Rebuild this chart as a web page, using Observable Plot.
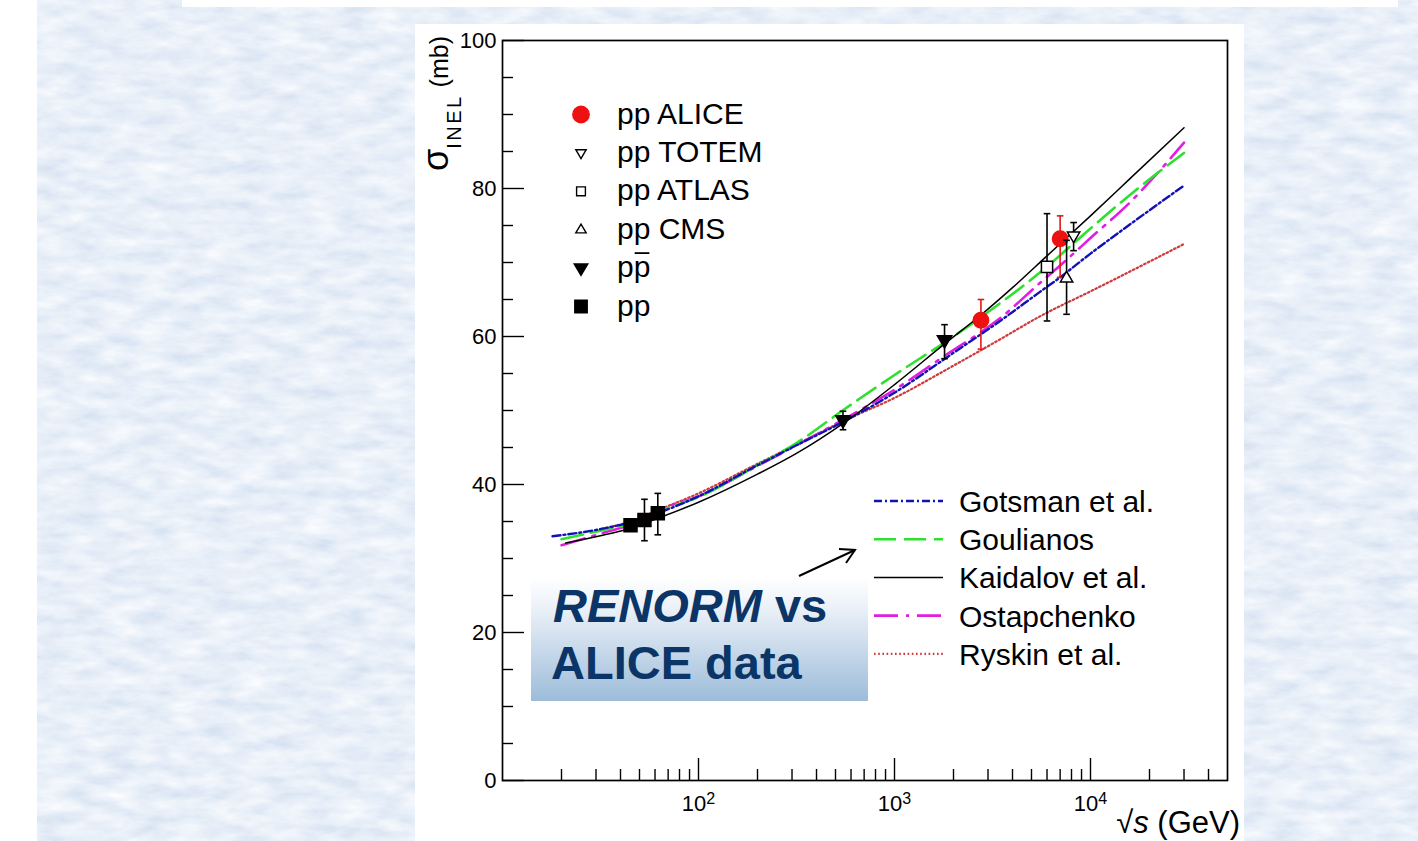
<!DOCTYPE html>
<html><head><meta charset="utf-8">
<script src="https://cdn.jsdelivr.net/npm/d3@7"></script>
<script src="https://cdn.jsdelivr.net/npm/@observablehq/plot@0.6"></script>
<style>
html,body{margin:0;padding:0;}
body{width:1418px;height:841px;position:relative;overflow:hidden;background:#fff;font-family:"Liberation Sans",Arial,sans-serif;}
#bg{position:absolute;left:37px;top:0;}
#topbox{position:absolute;left:182px;top:0;width:1216px;height:7px;background:#fff;overflow:hidden;}
#panel{position:absolute;left:415px;top:24px;width:829px;height:817px;background:#fff;}
#renorm{position:absolute;left:531px;top:577px;width:337px;height:124px;background:linear-gradient(#ffffff 0%, #eef3f9 22%, #9dbcda 100%);}
#overlay{position:absolute;left:0;top:0;}
</style></head><body>
<svg id="bg" width="1381" height="841">
  <filter id="tex" x="0" y="0" width="100%" height="100%">
    <feTurbulence type="fractalNoise" baseFrequency="0.03 0.08" numOctaves="4" seed="7"/>
    <feColorMatrix type="matrix" values="0.36 0 0 0 0.63  0.27 0 0 0 0.73  0.14 0 0 0 0.87  0 0 0 0 1"/>
  </filter>
  <rect width="100%" height="100%" filter="url(#tex)"/>
</svg>
<div id="topbox"><svg width="1216" height="7"><text x="1058" y="3" font-size="30" font-weight="bold" fill="#2b4a9a" font-family="Liberation Sans, Arial">√<tspan font-style="italic">s</tspan> (GeV)</text></svg></div>
<div id="panel"></div>
<div id="renorm"></div>
<svg id="overlay" width="1418" height="841"></svg>
<script>
// ---------------- data ----------------
const gotsmanE = [18, 32, 45, 63, 100, 200, 316, 550, 1000, 1950, 3500, 5500, 7000, 10000, 16000, 30000];
const gotsmanS = [33.0, 34.0, 34.9, 36.2, 38.4, 42.6, 45.3, 48.5, 52.4, 57.6, 62.2, 66.0, 68.0, 71.2, 75.2, 80.4];

const goulianosE = [20, 32, 45, 63, 100, 200, 316, 550, 1000, 1950, 3500, 5500, 10000, 16000, 30000];
const goulianosS = [32.6, 33.8, 34.7, 36.4, 38.3, 42.6, 45.6, 50.1, 54.8, 59.8, 64.6, 68.6, 74.6, 79.2, 84.8];

const kaidalovE = [21, 32, 45, 63, 100, 200, 316, 550, 1000, 1800, 2760, 4000, 6000, 10000, 16000, 30000];
const kaidalovS = [32.1, 33.1, 34.1, 35.5, 37.6, 41.4, 44.2, 48.3, 53.5, 59.0, 62.9, 66.6, 70.9, 76.3, 81.4, 88.2];

const ostapchenkoE = [20, 32, 45, 63, 100, 200, 316, 550, 1000, 1950, 2760, 3500, 5500, 7000, 10000, 16000, 30000];
const ostapchenkoS = [31.8, 33.4, 34.6, 36.6, 38.4, 42.5, 45.3, 48.8, 52.8, 58.0, 60.6, 62.6, 67.2, 69.6, 73.3, 78.2, 86.2];

const ryskinE = [32, 45, 63, 100, 200, 316, 550, 1000, 1950, 3500, 5500, 10000, 30000];
const ryskinS = [34.0, 35.0, 36.6, 38.8, 42.8, 45.4, 48.6, 51.7, 55.9, 59.7, 62.7, 66.1, 72.5];

const aliceE = [2760, 7000], aliceS = [62.2, 73.2], aliceLo = [58.3, 68.0], aliceHi = [65.0, 76.3];
const totemE = [8200], totemS = [73.6], totemLo = [71.6], totemHi = [75.4];
const atlasE = [6000], atlasS = [69.4], atlasLo = [62.1], atlasHi = [76.6];
const cmsE = [7550], cmsS = [67.9], cmsLo = [63.0], cmsHi = [73.0];
const ppbarE = [546, 1800], ppbarS = [48.7, 59.5], ppbarLo = [47.4, 57.0], ppbarHi = [49.9, 61.6];
const ppE = [45, 53, 62], ppS = [34.5, 35.2, 36.1], ppLo = [33.9, 32.4, 33.2], ppHi = [35.1, 38.0, 38.8];

const xMajor = [100, 1000, 10000];
const xMinor = [20, 30, 40, 50, 60, 70, 80, 90, 200, 300, 400, 500, 600, 700, 800, 900,
                2000, 3000, 4000, 5000, 6000, 7000, 8000, 9000, 20000, 30000, 40000];
const yMajor = [0, 20, 40, 60, 80, 100];
const yMinor = [5, 10, 15, 25, 30, 35, 45, 50, 55, 65, 70, 75, 85, 90, 95];

const modelNames = ["Gotsman et al.", "Goulianos", "Kaidalov et al.", "Ostapchenko", "Ryskin et al."];
const dataNames = ["pp ALICE", "pp TOTEM", "pp ATLAS", "pp CMS", "pp\u0305", "pp"];

// ---------------- styles ----------------
const modelStyles = [
  {stroke: "#1212b4", strokeWidth: 2.4, dash: "8,3,2,3"},
  {stroke: "#2fe02f", strokeWidth: 2.6, dash: "22,8"},
  {stroke: "#000000", strokeWidth: 1.5, dash: null},
  {stroke: "#e01ee0", strokeWidth: 2.6, dash: "24,8,3,8"},
  {stroke: "#d03a3a", strokeWidth: 2.2, dash: "1.6,2.6"}
];

// custom symbols (size = pi r^2; a = r)
const downTri = {draw(ctx, size){const a = Math.sqrt(size/Math.PI); ctx.moveTo(-a, -0.62*a); ctx.lineTo(a, -0.62*a); ctx.lineTo(0, 1.08*a); ctx.closePath();}};
const upTri = {draw(ctx, size){const a = Math.sqrt(size/Math.PI); ctx.moveTo(-a, 0.62*a); ctx.lineTo(a, 0.62*a); ctx.lineTo(0, -1.08*a); ctx.closePath();}};
const sq = {draw(ctx, size){const a = Math.sqrt(size/Math.PI); ctx.rect(-a, -a, 2*a, 2*a);}};
const circ = {draw(ctx, size){const a = Math.sqrt(size/Math.PI); ctx.moveTo(a, 0); ctx.arc(0, 0, a, 0, 2*Math.PI);}};
const cap = {draw(ctx, size){const a = Math.sqrt(size/Math.PI); ctx.moveTo(-a, 0); ctx.lineTo(a, 0);}};

const zip = (E, S) => E.map((e, i) => ({e, s: S[i]}));
const rows = (E, S, lo, hi) => E.map((e, i) => ({e, s: S[i], lo: lo[i], hi: hi[i]}));

const datasets = [
  {rows: rows(aliceE, aliceS, aliceLo, aliceHi), symbol: circ, r: 7.7, fill: "#ee1111", stroke: "#ee1111", bar: "#e01818"},
  {rows: rows(totemE, totemS, totemLo, totemHi), symbol: downTri, r: 6.2, fill: "white", stroke: "black", bar: "black"},
  {rows: rows(atlasE, atlasS, atlasLo, atlasHi), symbol: sq, r: 5.6, fill: "white", stroke: "black", bar: "black"},
  {rows: rows(cmsE, cmsS, cmsLo, cmsHi), symbol: upTri, r: 6.2, fill: "white", stroke: "black", bar: "black"},
  {rows: rows(ppbarE, ppbarS, ppbarLo, ppbarHi), symbol: downTri, r: 7.2, fill: "black", stroke: "black", bar: "black"},
  {rows: rows(ppE, ppS, ppLo, ppHi), symbol: sq, r: 6.5, fill: "black", stroke: "black", bar: "black"}
];
const models = [
  zip(gotsmanE, gotsmanS), zip(goulianosE, goulianosS), zip(kaidalovE, kaidalovS),
  zip(ostapchenkoE, ostapchenkoS), zip(ryskinE, ryskinS)
];

// ---------------- plot ----------------
const W = 829, H = 817, mL = 87, mR = 17, mT = 16, mB = 61;
const innerW = W - mL - mR, innerH = H - mT - mB;

const marks = [];
marks.push(Plot.tickX(xMinor, {x: d => d, insetTop: innerH - 11, stroke: "black", strokeWidth: 1.4}));
marks.push(Plot.tickX(xMajor, {x: d => d, insetTop: innerH - 22, stroke: "black", strokeWidth: 1.4}));
marks.push(Plot.tickY(yMinor, {y: d => d, insetRight: innerW - 11, stroke: "black", strokeWidth: 1.4}));
marks.push(Plot.tickY(yMajor, {y: d => d, insetRight: innerW - 22, stroke: "black", strokeWidth: 1.4}));
[4, 3, 1, 0, 2].forEach(i => {
  const st = modelStyles[i];
  marks.push(Plot.line(models[i], {x: "e", y: "s", stroke: st.stroke, strokeWidth: st.strokeWidth,
    strokeDasharray: st.dash || undefined, curve: "monotone-x"}));
});
datasets.forEach(ds => {
  marks.push(Plot.ruleX(ds.rows, {x: "e", y1: "lo", y2: "hi", stroke: ds.bar, strokeWidth: 1.6}));
  marks.push(Plot.dot(ds.rows, {x: "e", y: "lo", symbol: cap, r: 3.3, stroke: ds.bar, fill: "none", strokeWidth: 1.6}));
  marks.push(Plot.dot(ds.rows, {x: "e", y: "hi", symbol: cap, r: 3.3, stroke: ds.bar, fill: "none", strokeWidth: 1.6}));
  marks.push(Plot.dot(ds.rows, {x: "e", y: "s", symbol: ds.symbol, r: ds.r, fill: ds.fill, stroke: ds.stroke, strokeWidth: 1.5}));
});
marks.push(Plot.axisY(yMajor, {tickSize: 0, tickPadding: 6, label: null}));
marks.push(Plot.axisX(xMajor, {tickSize: 0, tickPadding: 15, label: null,
  tickFormat: d => "10^" + Math.round(Math.log10(d))}));
marks.push(Plot.frame({stroke: "black", strokeWidth: 1.7}));

const chart = Plot.plot({
  width: W, height: H, marginLeft: mL, marginRight: mR, marginTop: mT, marginBottom: mB,
  x: {type: "log", domain: [10, 50000]},
  y: {domain: [0, 100]},
  style: {fontFamily: "Liberation Sans, Arial, sans-serif", fontSize: "22px", color: "black", background: "transparent", overflow: "visible"},
  marks
});
document.getElementById("panel").appendChild(chart);

chart.querySelectorAll('[aria-label="y-axis tick label"] text, [aria-label="x-axis tick label"] text').forEach(t => {
  t.style.fontSize = "22px";
});
chart.querySelectorAll('[aria-label="x-axis tick label"] text').forEach(t => {
  const parts = t.textContent.split("^");
  if (parts.length !== 2) return;
  t.textContent = "";
  const ns = "http://www.w3.org/2000/svg";
  const a = document.createElementNS(ns, "tspan"); a.textContent = parts[0]; t.appendChild(a);
  const b = document.createElementNS(ns, "tspan"); b.textContent = parts[1];
  b.setAttribute("dy", "-0.45em"); b.style.fontSize = "16px"; t.appendChild(b);
});

// ---------------- overlay (legends, labels, annotation) ----------------
const ov = d3.select("#overlay");
const FONT = "Liberation Sans, Arial, sans-serif";

const yl = ov.append("text").attr("transform", "translate(448,36) rotate(-90)")
  .attr("text-anchor", "end").attr("font-family", FONT).attr("fill", "black");
yl.append("tspan").attr("font-size", 36).text("σ");
yl.append("tspan").attr("font-size", 20).attr("dy", 13).attr("letter-spacing", 2.5).text("INEL");
yl.append("tspan").attr("font-size", 25).attr("dy", -13).text(" (mb)");

const xl = ov.append("text").attr("x", 1240).attr("y", 833).attr("text-anchor", "end")
  .attr("font-family", FONT).attr("font-size", 31).attr("fill", "black");
xl.append("tspan").text("√");
xl.append("tspan").attr("font-style", "italic").text("s");
xl.append("tspan").text(" (GeV)");

const legSyms = [
  {symbol: circ, r: 8.2, fill: "#ee1111", stroke: "#ee1111"},
  {symbol: downTri, r: 5.2, fill: "white", stroke: "black"},
  {symbol: sq, r: 4.4, fill: "white", stroke: "black"},
  {symbol: upTri, r: 5.2, fill: "white", stroke: "black"},
  {symbol: downTri, r: 6.8, fill: "black", stroke: "black"},
  {symbol: sq, r: 6.2, fill: "black", stroke: "black"}
];
dataNames.forEach((name, i) => {
  const cy = 114.5 + 38.4 * i;
  const s = legSyms[i];
  ov.append("path").attr("transform", `translate(581,${cy})`)
    .attr("d", d3.symbol(s.symbol, Math.PI * s.r * s.r)())
    .attr("fill", s.fill).attr("stroke", s.stroke).attr("stroke-width", 1.4);
  const t = ov.append("text").attr("x", 617).attr("y", cy + 9).attr("font-family", FONT)
    .attr("font-size", 30).attr("fill", "black");
  if (i === 4) {
    t.text("pp");
    const ext = t.node().getExtentOfChar(1);
    ov.append("line").attr("x1", ext.x + 1).attr("x2", ext.x + ext.width - 1)
      .attr("y1", cy - 15).attr("y2", cy - 15).attr("stroke", "black").attr("stroke-width", 1.8);
  } else {
    t.text(name);
  }
});

modelNames.forEach((name, i) => {
  const cy = 501 + 38.2 * i;
  const st = modelStyles[i];
  ov.append("line").attr("x1", 874).attr("x2", 943).attr("y1", cy).attr("y2", cy)
    .attr("stroke", st.stroke).attr("stroke-width", st.strokeWidth)
    .attr("stroke-dasharray", st.dash || null);
  ov.append("text").attr("x", 959).attr("y", cy + 11).attr("font-family", FONT)
    .attr("font-size", 30).attr("fill", "black").text(name);
});

const rt = ov.append("text").attr("x", 553).attr("y", 622).attr("font-family", FONT)
  .attr("font-size", 47).attr("font-weight", "bold").attr("fill", "#0a3566");
rt.append("tspan").attr("font-style", "italic").text("RENORM");
rt.append("tspan").text(" vs");
ov.append("text").attr("x", 551).attr("y", 679).attr("font-family", FONT)
  .attr("font-size", 47).attr("font-weight", "bold").attr("fill", "#0a3566").text("ALICE data");

ov.append("line").attr("x1", 799).attr("y1", 576).attr("x2", 855).attr("y2", 550)
  .attr("stroke", "black").attr("stroke-width", 2);
ov.append("polyline").attr("points", "839,549 855,550 846,563")
  .attr("fill", "none").attr("stroke", "black").attr("stroke-width", 2);
</script>
</body></html>
